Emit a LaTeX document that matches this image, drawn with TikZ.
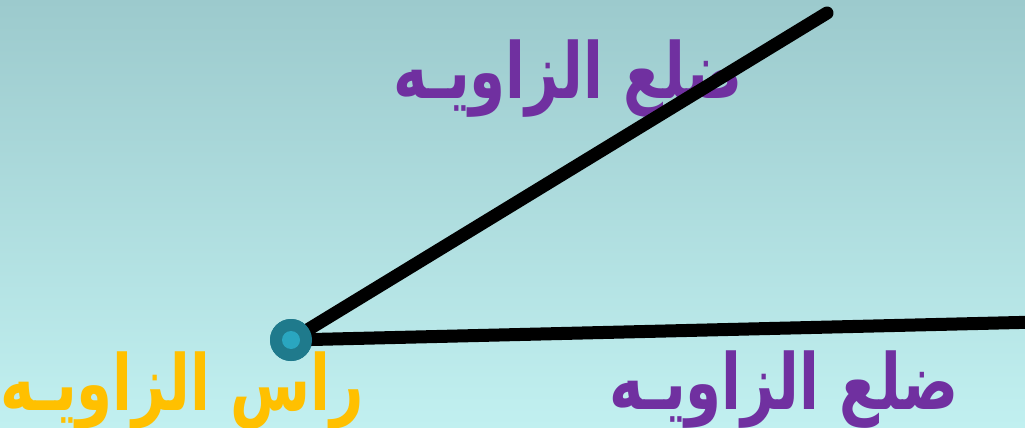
\documentclass[tikz,border=0pt]{standalone}
\usepackage{fontspec}
\newfontfamily\arabicfont[Script=Arabic,FakeStretch=0.75]{DejaVu Sans}
\TeXXeTstate=1
\definecolor{bgtop}{RGB}{156,202,205}
\definecolor{bgbottom}{RGB}{193,240,240}
\definecolor{sidepurple}{RGB}{112,48,160}
\definecolor{vertexyellow}{RGB}{255,192,0}
\definecolor{dotouter}{RGB}{31,122,140}
\definecolor{dotinner}{RGB}{42,166,192}

\begin{document}
\begin{tikzpicture}[x=1.0cm,y=1.0cm,line cap=round,line join=round,
  arm/.style={black, line width=3.7pt},
  arabiclabel/.style={font=\arabicfont\bfseries\fontsize{22}{26}\selectfont, inner sep=0pt}]
  % background
  \shade[top color=bgtop, bottom color=bgbottom] (0,0) rectangle (10.25,4.27);
  \useasboundingbox (0,0) rectangle (10.25,4.27);

  % upper side label (under the arm)
  \node[arabiclabel, text=sidepurple] (upperlabel) at (5.68,3.48) {\beginR ضلع الزاويـه\endR};

  % the two arms of the angle
  \coordinate (upperend) at (8.27,4.14);
  \coordinate (lowerend) at (10.40,1.05);
  \node[circle, fill=dotouter, minimum size=0.42cm, inner sep=0pt] (vertex) at (2.91,0.87) {};
  \draw[arm] (vertex.center) -- (upperend);
  \draw[arm, line cap=butt] (vertex.center) -- (lowerend);

  % vertex dot
  \node[circle, fill=dotouter, minimum size=0.42cm, inner sep=0pt] at (vertex) {};
  \node[circle, fill=dotinner, minimum size=0.18cm, inner sep=0pt] (vertexcore) at (vertex) {};

  % labels
  \node[arabiclabel, text=vertexyellow] (vertexlabel) at (1.82,0.36) {\beginR راس الزاويـه\endR};
  \node[arabiclabel, text=sidepurple] (lowerlabel) at (7.84,0.37) {\beginR ضلع الزاويـه\endR};
\end{tikzpicture}
\end{document}
